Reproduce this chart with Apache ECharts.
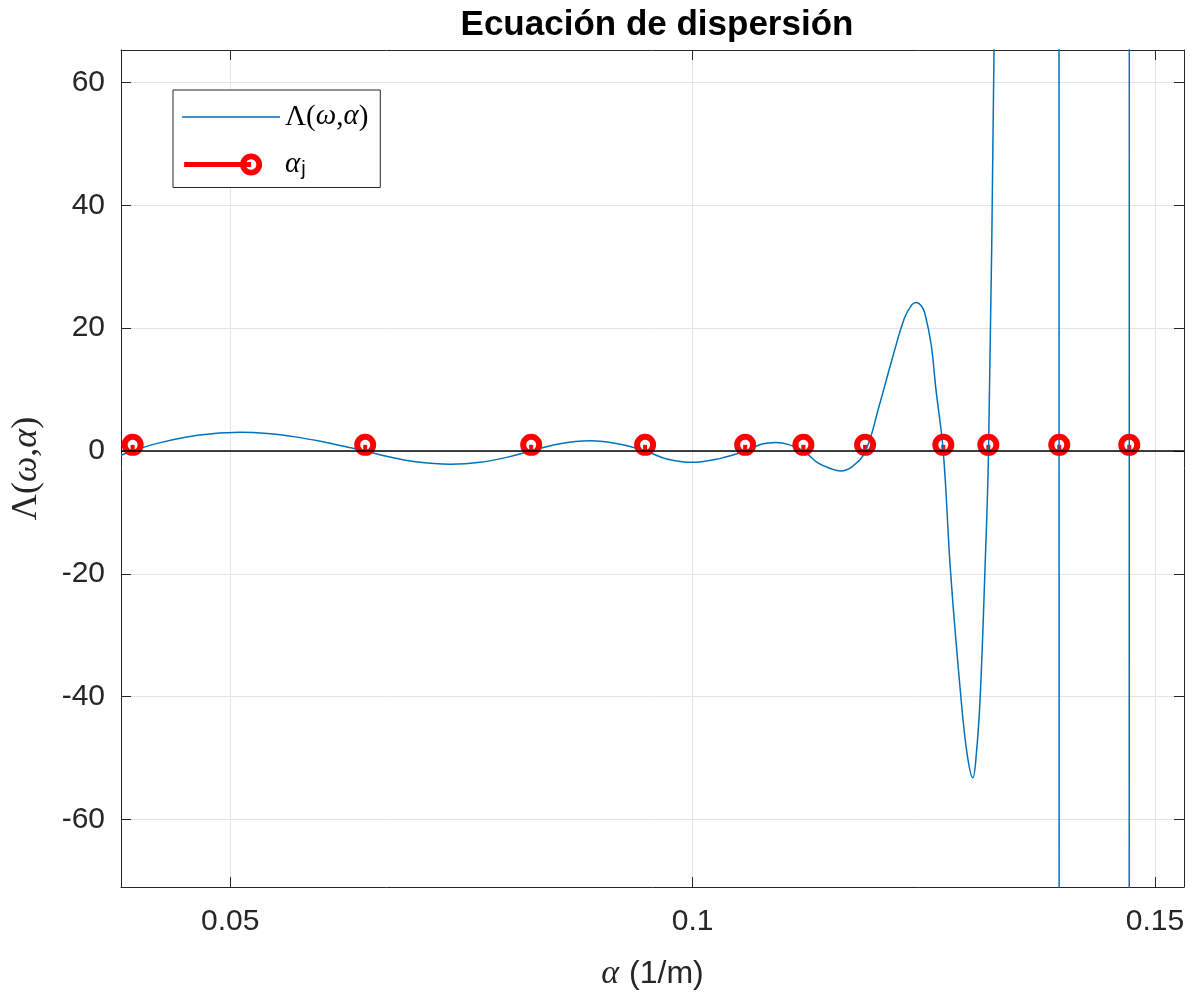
<!DOCTYPE html>
<html>
<head>
<meta charset="utf-8">
<script src="https://cdn.jsdelivr.net/npm/echarts@6/dist/echarts.min.js"></script>
<style>
  html, body { margin: 0; padding: 0; background: #fff; }
  #main { width: 1192px; height: 996px; }
</style>
</head>
<body>
<div id="main"></div>
<script>
// curva Lambda(omega, alpha)
var curveX = [0.0382, 0.0394, 0.0420, 0.0450, 0.0480, 0.0511, 0.0540, 0.0570, 0.0600, 0.0625,
  0.0646, 0.0670, 0.0700, 0.0738, 0.0770, 0.0800, 0.0825, 0.0855, 0.0889, 0.0920,
  0.0949, 0.0972, 0.1000, 0.1030, 0.1057, 0.1075, 0.1090, 0.1105, 0.1120, 0.1135,
  0.1150, 0.1160, 0.1173, 0.1187, 0.1202, 0.1216, 0.1229, 0.1237, 0.1242, 0.1247,
  0.1251, 0.1258, 0.1263, 0.1271, 0.1279, 0.1290, 0.1297, 0.1303, 0.1307, 0.1311,
  0.1316, 0.1320, 0.1326, 0.1331, 0.1340, 0.1396, 0.13966, 0.1472, 0.14724, 0.1531];
var curveY = [-0.7, 0, 1.2, 2.2, 2.8, 3.05, 2.85, 2.3, 1.5, 0.7,
  0, -0.9, -1.75, -2.15, -1.85, -1.0, 0, 1.15, 1.65, 1.15,
  0, -1.3, -1.85, -1.2, 0, 1.15, 1.4, 1.0, 0, -1.9,
  -2.9, -3.25, -2.5, 0, 7.5, 15.1, 21.6, 23.8, 24.2, 23.7,
  22.5, 17.3, 10.2, 0, -19.8, -39.9, -49.5, -53.2, -49, -40,
  -20, 0, 66, 150, 300, 300, -300, -300, 300, 300];

// raices alpha_j
var rootX = [0.03944, 0.06459, 0.08254, 0.09486, 0.10568, 0.11198, 0.11865, 0.12711, 0.13198, 0.13965, 0.14722];
var rootY = [1, 1, 1, 1, 1, 1, 1, 1, 1, 1, 1];

var xMin = 0.03818, xMax = 0.15314;
var yMin = -71, yMax = 65.3;

var curveData = curveX.map(function (x, i) { return [x, curveY[i]]; });
var rootData = rootX.map(function (x, i) { return [x, rootY[i]]; });

var axisColor = '#262626';
var sans = 'Liberation Sans, Arial, Helvetica, sans-serif';
var serif = 'Liberation Serif, Times New Roman, serif';

// iconos de la leyenda (linea fina azul / linea roja gruesa con circulo)
var iconLine = 'path://M0 0 L0 0 Z M0 10.25 L98 10.25 L98 11.75 L0 11.75 Z M98 22 L98 22 Z';
var iconStem = 'path://M0 0 L0 0 Z M0 8.5 L70 8.5 L70 13.5 L0 13.5 Z ' +
  'M81.5 11 A11.5 11.5 0 1 1 58.5 11 A11.5 11.5 0 1 1 81.5 11 Z ' +
  'M75.5 11 A5.5 5.5 0 1 0 64.5 11 A5.5 5.5 0 1 0 75.5 11 Z M98 22 L98 22 Z';

var myChart = echarts.init(document.getElementById('main'));

var option = {
  backgroundColor: '#fff',
  animation: false,
  title: {
    text: 'Ecuación de dispersión',
    left: 652,
    textAlign: 'center',
    top: 3,
    textStyle: { fontFamily: sans, fontSize: 35, fontWeight: 'bold', color: '#000' }
  },
  grid: { left: 121, right: 8, top: 50, bottom: 106 },
  legend: {
    orient: 'vertical',
    left: 173,
    top: 90,
    itemWidth: 98,
    itemHeight: 22,
    itemGap: 14,
    padding: [12, 12, 8, 9],
    backgroundColor: '#fff',
    borderColor: axisColor,
    borderWidth: 1,
    data: [
      { name: 'Lambda', icon: iconLine, itemStyle: { color: '#0072BD', borderWidth: 0 } },
      { name: 'alpha', icon: iconStem, itemStyle: { color: '#ff0000', borderWidth: 0 } }
    ],
    formatter: function (name) {
      if (name === 'Lambda') return '{s|Λ(}{i|ω}{s|,}{i|α}{s|)}';
      return '{i|α}{sub|j}';
    },
    textStyle: {
      rich: {
        s: { fontFamily: serif, fontSize: 29, color: '#000', lineHeight: 30 },
        i: { fontFamily: serif, fontSize: 29, fontStyle: 'italic', color: '#000', lineHeight: 30, verticalAlign: 'top' },
        sub: { fontFamily: sans, fontSize: 20, color: '#000', lineHeight: 20, padding: [14, 0, 0, 1], verticalAlign: 'bottom' }
      }
    }
  },
  xAxis: [{
    type: 'value',
    min: xMin,
    max: xMax,
    splitNumber: 2,
    name: '{g|α}{t|(1/m)}',
    nameLocation: 'middle',
    nameGap: 70,
    nameTextStyle: {
      rich: {
        g: { fontFamily: serif, fontStyle: 'italic', fontSize: 34, color: axisColor, padding: [0, 10, 0, 0] },
        t: { fontFamily: sans, fontSize: 32, color: axisColor }
      }
    },
    axisLine: { show: true, onZero: false, lineStyle: { color: axisColor, width: 1 } },
    axisTick: { show: true, inside: true, length: 10, lineStyle: { color: axisColor } },
    axisLabel: { showMinLabel: false, showMaxLabel: false, fontFamily: sans, fontSize: 30, color: axisColor, margin: 20 },
    splitLine: { show: true, lineStyle: { color: '#e4e4e4', width: 1 } }
  }, {
    type: 'value',
    position: 'top',
    min: xMin,
    max: xMax,
    splitNumber: 2,
    axisLine: { show: true, onZero: false, lineStyle: { color: axisColor, width: 1 } },
    axisTick: { show: true, inside: true, length: 10, lineStyle: { color: axisColor } },
    axisLabel: { show: false },
    splitLine: { show: false }
  }],
  yAxis: [{
    type: 'value',
    min: yMin,
    max: yMax,
    splitNumber: 7,
    name: '{s|Λ(}{i|ω}{s|,}{i|α}{s|)}',
    nameLocation: 'middle',
    nameGap: 76,
    nameTextStyle: {
      rich: {
        s: { fontFamily: serif, fontSize: 36, color: axisColor },
        i: { fontFamily: serif, fontSize: 36, fontStyle: 'italic', color: axisColor }
      }
    },
    axisLine: { show: true, onZero: false, lineStyle: { color: axisColor, width: 1 } },
    axisTick: { show: true, inside: true, length: 10, lineStyle: { color: axisColor } },
    axisLabel: { showMinLabel: false, showMaxLabel: false, fontFamily: sans, fontSize: 30, color: axisColor, margin: 16 },
    splitLine: { show: true, lineStyle: { color: '#e4e4e4', width: 1 } }
  }, {
    type: 'value',
    position: 'right',
    min: yMin,
    max: yMax,
    splitNumber: 7,
    axisLine: { show: true, onZero: false, lineStyle: { color: axisColor, width: 1 } },
    axisTick: { show: true, inside: true, length: 10, lineStyle: { color: axisColor } },
    axisLabel: { show: false },
    splitLine: { show: false }
  }],
  series: [{
    name: 'stem',
    type: 'bar',
    data: rootData,
    barWidth: 4,
    z: 2,
    itemStyle: { color: '#ff0000' },
    markLine: {
      silent: true,
      symbol: ['none', 'none'],
      label: { show: false },
      lineStyle: { color: '#000', width: 1.5, type: 'solid' },
      data: [{ yAxis: 0 }]
    }
  }, {
    name: 'Lambda',
    type: 'line',
    data: curveData,
    symbol: 'none',
    showSymbol: false,
    smooth: 0.4,
    clip: true,
    z: 3,
    lineStyle: { color: '#0072BD', width: 1.5 },
    itemStyle: { color: '#0072BD' }
  }, {
    name: 'alpha',
    type: 'line',
    data: rootData,
    symbol: 'circle',
    symbolSize: 16,
    showSymbol: true,
    z: 4,
    lineStyle: { width: 0, opacity: 0 },
    itemStyle: { color: 'rgba(255,255,255,0)', borderColor: '#ff0000', borderWidth: 6 }
  }]
};

myChart.setOption(option);
window.addEventListener('resize', function () {
  myChart.resize();
});
</script>
</body>
</html>
